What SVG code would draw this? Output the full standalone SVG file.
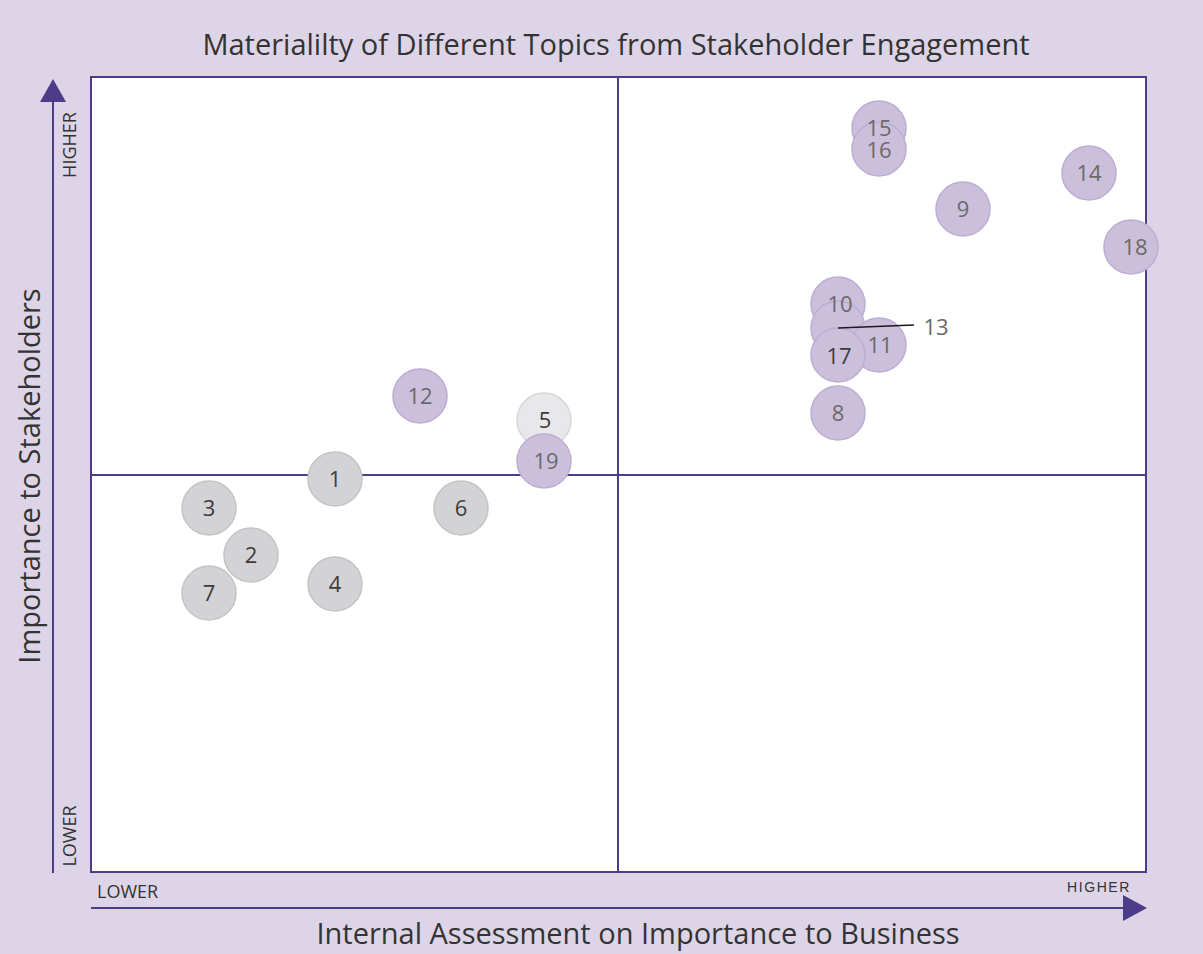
<svg xmlns="http://www.w3.org/2000/svg" width="1203" height="954" viewBox="0 0 1203 954">
<defs>
<style>
.bg{fill:#ddd5e7}
.plot{fill:#ffffff;stroke:#4d3c89;stroke-width:2}
.axis{stroke:#4d3c89;stroke-width:2;fill:none}
.head{fill:#4d3c89}
.p{fill:#cbbfdc;stroke:#bcaed3;stroke-width:1.5}
.g{fill:#d3d3d5;stroke:#c4c4c6;stroke-width:1.5}
.l{fill:#e8e8ea;stroke:#d6d6d8;stroke-width:1.5}
text{font-family:"Open Sans","Noto Sans","Liberation Sans",sans-serif}
.t{font-size:22px;text-anchor:middle;fill:#6a6a6a}
.td{font-size:22px;text-anchor:middle;fill:#3c3c3c}
.big{font-size:29px;fill:#333333;text-anchor:middle}
.small{font-size:18px;fill:#333333}
.leader{stroke:#1a1a1a;stroke-width:1.6;fill:none}
</style>
</defs>
<rect class="bg" x="0" y="0" width="1203" height="954"/>
<g id="frame">
<rect class="plot" x="91" y="77" width="1055" height="795"/>
<line class="axis" x1="618" y1="77" x2="618" y2="872"/>
<line class="axis" x1="91" y1="475" x2="1146" y2="475"/>
</g>
<g id="axes">
<line class="axis" x1="53" y1="873" x2="53" y2="98"/>
<polygon class="head" points="53,79 40,102 66,102"/>
<line class="axis" x1="91" y1="908" x2="1126" y2="908"/>
<polygon class="head" points="1147,908 1123,895 1123,921"/>
</g>
<g id="labels">
<text class="big" x="616" y="55">Materialilty of Different Topics from Stakeholder Engagement</text>
<text class="big" x="638" y="944">Internal Assessment on Importance to Business</text>
<text class="big" transform="translate(40,476) rotate(-90)">Importance to Stakeholders</text>
<text class="small" text-anchor="middle" transform="translate(76,145) rotate(-90)">HIGHER</text>
<text class="small" text-anchor="middle" transform="translate(76,836) rotate(-90)">LOWER</text>
<text class="small" x="97" y="898">LOWER</text>
<text x="1099" y="892" text-anchor="middle" style="font-family:'Liberation Sans',sans-serif;font-size:14px;letter-spacing:1.6px;fill:#333333">HIGHER</text>
</g>
<g id="n15"><circle class="p" cx="879" cy="128" r="27"/></g>
<g id="n16"><circle class="p" cx="879" cy="149" r="27"/></g>
<g id="n14"><circle class="p" cx="1089" cy="173" r="27"/></g>
<g id="n9"><circle class="p" cx="963" cy="209" r="27"/></g>
<g id="n18"><circle class="p" cx="1131" cy="247" r="27"/></g>
<g id="n10"><circle class="p" cx="838" cy="304" r="27"/></g>
<g id="n13"><circle class="p" cx="838" cy="328" r="27"/></g>
<g id="n11"><circle class="p" cx="879" cy="345" r="27"/></g>
<g id="n17"><circle class="p" cx="838" cy="355" r="27"/></g>
<g id="n8"><circle class="p" cx="838" cy="413" r="27"/></g>
<g id="n12"><circle class="p" cx="420" cy="396" r="27"/></g>
<g id="n5"><circle class="l" cx="544" cy="420" r="27"/></g>
<g id="n19"><circle class="p" cx="544" cy="461" r="27"/></g>
<g id="n1"><circle class="g" cx="335" cy="479" r="27"/></g>
<g id="n3"><circle class="g" cx="209" cy="508" r="27"/></g>
<g id="n6"><circle class="g" cx="461" cy="508" r="27"/></g>
<g id="n2"><circle class="g" cx="251" cy="555" r="27"/></g>
<g id="n4"><circle class="g" cx="335" cy="584" r="27"/></g>
<g id="n7"><circle class="g" cx="209" cy="593" r="27"/></g>
<g id="connectors">
<line class="leader" x1="838" y1="328" x2="914" y2="325"/>
</g>
<g id="node-labels">
<text id="t15" class="t" x="879" y="136">15</text>
<text id="t16" class="t" x="879" y="158">16</text>
<text id="t14" class="t" x="1089" y="181">14</text>
<text id="t9" class="t" x="963" y="217">9</text>
<text id="t18" class="t" x="1135" y="255">18</text>
<text id="t10" class="t" x="840" y="312">10</text>
<text id="t11" class="t" x="880" y="353">11</text>
<text id="t17" class="td" x="839" y="364">17</text>
<text id="t8" class="t" x="838" y="421">8</text>
<text id="t12" class="t" x="420" y="404">12</text>
<text id="t5" class="td" x="545" y="428">5</text>
<text id="t19" class="t" x="546" y="469">19</text>
<text id="t1" class="td" x="335" y="487">1</text>
<text id="t3" class="td" x="209" y="516">3</text>
<text id="t6" class="td" x="461" y="516">6</text>
<text id="t2" class="td" x="251" y="563">2</text>
<text id="t4" class="td" x="335" y="592">4</text>
<text id="t7" class="td" x="209" y="601">7</text>
<text id="t13" class="t" x="936" y="335">13</text>
</g>
</svg>
